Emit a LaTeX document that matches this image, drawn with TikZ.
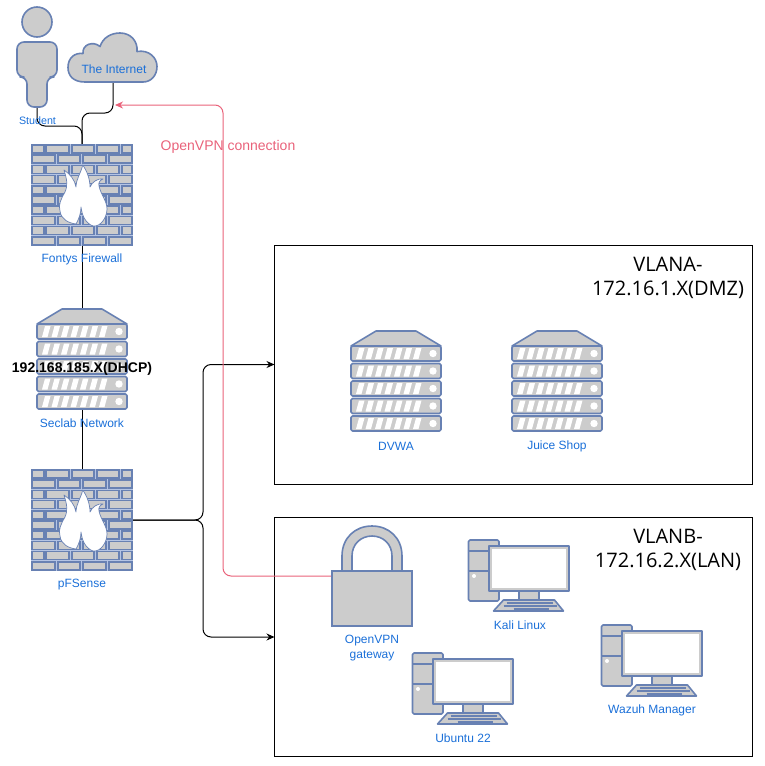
\documentclass[tikz,border=0pt]{standalone}
\usepackage{fontspec}
\setmainfont{Liberation Sans}
\newfontfamily\zonefont{Open Sans}
\usetikzlibrary{positioning,arrows.meta}
\definecolor{iconblue}{HTML}{6881B3}
\definecolor{seamblue}{HTML}{B4C4E4}
\definecolor{icongrey}{HTML}{CCCCCC}
\definecolor{lblblue}{HTML}{1A6FD8}
\definecolor{vpnred}{HTML}{E9627A}
\tikzset{
	icon/.style={inner sep=0,outer sep=0},
	lbl/.style={inner sep=0,text=lblblue,font=\fontsize{12}{15}\selectfont,align=center},
	zone/.style={draw=black,line width=1pt,inner sep=0,outer sep=0,minimum width=478,minimum height=239},
	zonetitle/.style={inner sep=0,font=\zonefont\fontsize{20}{24}\selectfont,align=center},
	iconpart/.style={draw=iconblue,fill=icongrey,line width=1.6pt,line join=round},
	link/.style={draw=black,line width=1pt,rounded corners=8pt},
	vpnlink/.style={draw=vpnred,line width=1pt,rounded corners=8pt},
	firewall/.pic={
		\fill[seamblue] (-51,-51) rectangle (51,51);
		\foreach \r in {0,2,4,6,8}{
			\foreach \a/\b in {0/13.5,14/39,39.5/64,64.5/89,89.5/102}{
				\fill[iconblue] (\a-51,\r*10.2-50.8) rectangle (\b-51,\r*10.2-41.2);
				\fill[icongrey] (\a-49,\r*10.2-49.2) rectangle (\b-53,\r*10.2-42.8);
			}
			\foreach \a/\b in {0/25,25.5/50,50.5/76,76.5/102}{
				\fill[iconblue] (\a-51,\r*10.2-40.6) rectangle (\b-51,\r*10.2-31);
				\fill[icongrey] (\a-49,\r*10.2-39) rectangle (\b-53,\r*10.2-32.6);
			}
		}
		\draw[iconblue,fill=white,line width=0.7pt,line join=round] (0.7,-30) .. controls (-1,-22) and (-6,-16) .. (-6,-8)
			.. controls (-7,-15) and (-12,-21) .. (-18,-25)
			.. controls (-15,-15) and (-14,-10) .. (-17,-3)
			.. controls (-21,4) and (-24,10) .. (-22,16)
			.. controls (-21,24) and (-14,28) .. (-6,29)
			.. controls (-3,24) and (-1,18) .. (-1,12)
			.. controls (0,20) and (3,28) .. (11,31)
			.. controls (19,32) and (25,22) .. (25,14)
			.. controls (25,6) and (19,0) .. (17,-9)
			.. controls (16,-12) and (18,-15) .. (21,-16)
			.. controls (16,-17) and (10,-13) .. (8,-8)
			.. controls (8,-16) and (5,-24) .. (0.7,-30) -- cycle;
	},
	server/.pic={
		\draw[iconpart] (-20,-50) -- (20,-50) -- (45,-35) -- (-45,-35) -- cycle;
		\foreach \r in {0,1,2,3,4}{
			\draw[iconpart,rounded corners=1.5pt] (-45,-35+\r*17.5) rectangle (45,-20+\r*17.5);
			\foreach \s in {0,1,...,6}
				\fill[white] (-40+\s*9.5,-22+\r*17.5) -- ++(3,-11) -- ++(5.5,0) -- ++(-3,11) -- cycle;
			\fill[white] (37,-27.5+\r*17.5) circle (3.7);
		}
	},
	workstation/.pic={
		\draw[iconpart,rounded corners=1.5pt] (-50,-36) rectangle (-19.5,25);
		\draw[iconpart] (-50,-25) -- (-19.5,-25) (-50,-5) -- (-19.5,-5);
		\fill[white] (-44.5,0) circle (2);
		\draw[iconpart] (0.5,15) rectangle (20.5,24);
		\draw[iconpart] (-29.5,-30) rectangle (50.5,15);
		\fill[white] (-26.5,-27) rectangle (47.5,12);
		\draw[iconpart] (-25,35) -- (-15,24) -- (36,24) -- (45,35) -- cycle;
		\foreach \l/\p/\q in {27/-12/34,30/-15/38,33/-5/30}
			\draw[iconblue,line width=1.2pt] (\p,\l) -- (\q,\l);
	},
	padlock/.pic={
		\draw[iconpart] (-30,-5) -- (-30,-20) .. controls (-30,-38) and (-17,-50) .. (0,-50)
			.. controls (17,-50) and (30,-38) .. (30,-20) -- (30,-5)
			-- (20,-5) -- (20,-20) .. controls (20,-32) and (11,-40) .. (0,-40)
			.. controls (-11,-40) and (-20,-32) .. (-20,-20) -- (-20,-5) -- cycle;
		\draw[iconpart,line join=miter] (-40,-5) rectangle (40,50);
	},
	person/.pic={
		\draw[iconpart] (0,-35) circle (15);
		\draw[iconpart,rounded corners=7pt] (-20,-15) -- (20,-15) -- (20,20) -- (10,20) -- (10,50) -- (-10,50) -- (-10,20) -- (-20,20) -- cycle;
	},
	cloudicon/.pic={
		\draw[iconpart] (-28,24.5) .. controls (-40,24.5) and (-45,18) .. (-45,10)
			.. controls (-45,0) and (-38,-5) .. (-30,-4)
			.. controls (-31,-13) and (-20,-17) .. (-13,-11)
			.. controls (-10,-20) and (-2,-24.5) .. (7,-24.5)
			.. controls (18,-24.5) and (25,-16) .. (24,-6)
			.. controls (36,-8) and (44,0) .. (44,9)
			.. controls (44,18) and (38,24.5) .. (30,24.5) -- cycle;
	},
}
\begin{document}
\begin{tikzpicture}[>={Stealth[length=8pt,width=7pt]},x=1pt,y=-1pt]
	\useasboundingbox (0,0) rectangle (764,766);
	% icons and zones
	\node[icon,minimum width=40,minimum height=100] (student) at (37,57) {};
	\node[icon,minimum width=89,minimum height=49] (internet) at (113,57.5) {};
	\node[icon,minimum size=102] (fontys) at (82,195) {};
	\node[icon,minimum width=90,minimum height=100] (seclab) at (82,359) {};
	\node[icon,minimum size=102] (pfsense) at (82,520) {};
	\node[zone] (vlana) at (513.5,364.5) {};
	\node[zone] (vlanb) at (513.5,637) {};
	\node[icon,minimum width=90,minimum height=100] (dvwa) at (396,381) {};
	\node[icon,minimum width=90,minimum height=100] (juice) at (557,381) {};
	\node[icon,minimum width=80,minimum height=100] (lockvpn) at (372,576) {};
	\node[icon,minimum width=101,minimum height=72] (kali) at (518.5,576) {};
	\node[icon,minimum width=101,minimum height=72] (ubuntu) at (462.5,689) {};
	\node[icon,minimum width=101,minimum height=72] (wazuh) at (651.5,661) {};
	\coordinate (vpnend) at (115,105);
	% connectors
	\draw[link] (student.south) -- ++(0,19) -| (fontys.north);
	\draw[link] (internet.south) -- ++(0,31) -| (fontys.north);
	\draw[link] (fontys.south) -- (seclab.north);
	\draw[link] (seclab.south) -- (pfsense.north);
	\draw[link,->] (pfsense.east) -- ++(70,0) |- (vlana.west);
	\draw[link,->] (pfsense.east) -- ++(70,0) |- (vlanb.west);
	\draw[vpnlink,->] (lockvpn.west) -- ++(-109,0) |- (vpnend);
	% pictures of the devices
	\pic at (student) {person};
	\pic at (internet) {cloudicon};
	\pic at (fontys) {firewall};
	\pic at (seclab) {server};
	\pic at (pfsense) {firewall};
	\pic at (dvwa) {server};
	\pic at (juice) {server};
	\pic at (lockvpn) {padlock};
	\pic at (kali) {workstation};
	\pic at (ubuntu) {workstation};
	\pic at (wazuh) {workstation};
	% labels
	\node[lbl,font=\fontsize{10.7}{12}\selectfont] (studentlbl) at (37.5,121) {Student};
	\node[lbl] (internetlbl) at (114,69) {The Internet};
	\node[lbl] (fontyslbl) at (82,259) {Fontys Firewall};
	\node[inner sep=0,font=\fontsize{14}{16}\selectfont\bfseries] (dhcplbl) at (82,369) {192.168.185.X(DHCP)};
	\node[lbl] (seclablbl) at (82,423) {Seclab Network};
	\node[lbl] (pfsenselbl) at (82,585) {pFSense};
	\node[lbl] (dvwalbl) at (396,446) {DVWA};
	\node[lbl] (juicelbl) at (557,446) {Juice Shop};
	\node[lbl] (lockvpnlbl) at (372,648.5) {OpenVPN\\gateway};
	\node[lbl] (kalilbl) at (520,625) {Kali Linux};
	\node[lbl] (ubuntulbl) at (463,738) {Ubuntu 22};
	\node[lbl] (wazuhlbl) at (652,710) {Wazuh Manager};
	\node[inner sep=0,text=vpnred,font=\fontsize{14}{16}\selectfont] (vpnlbl) at (228,147) {OpenVPN connection};
	\node[zonetitle] (vlanatitle) at (668,278) {VLANA-\\172.16.1.X(DMZ)};
	\node[zonetitle] (vlanbtitle) at (668,549.5) {VLANB-\\172.16.2.X(LAN)};
\end{tikzpicture}
\end{document}
